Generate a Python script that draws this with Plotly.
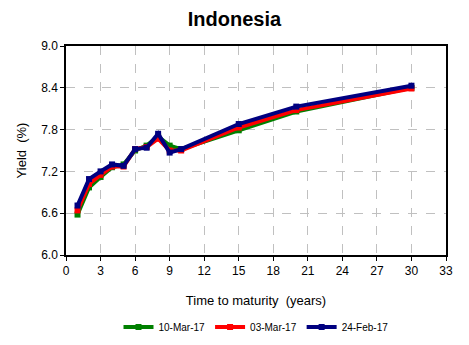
import plotly.graph_objects as go

maturity = [1, 2, 3, 4, 5, 6, 7, 8, 9, 10, 15, 20, 30]
y_10mar = [6.58, 6.97, 7.12, 7.26, 7.30, 7.50, 7.57, 7.70, 7.57, 7.52, 7.79, 8.06, 8.40]
y_03mar = [6.64, 7.02, 7.15, 7.27, 7.27, 7.52, 7.55, 7.67, 7.50, 7.50, 7.83, 8.08, 8.39]
y_24feb = [6.71, 7.09, 7.20, 7.30, 7.28, 7.52, 7.54, 7.74, 7.47, 7.52, 7.88, 8.13, 8.43]

series = [
    ("10-Mar-17", y_10mar, "#008000"),
    ("03-Mar-17", y_03mar, "#FF0000"),
    ("24-Feb-17", y_24feb, "#000080"),
]

x_ticks = [0, 3, 6, 9, 12, 15, 18, 21, 24, 27, 30, 33]
y_ticks = [6.0, 6.6, 7.2, 7.8, 8.4, 9.0]

fig = go.Figure()
for name, vals, col in series:
    fig.add_trace(go.Scatter(
        x=maturity, y=vals, name=name, mode="lines+markers",
        line=dict(color=col, width=4),
        marker=dict(symbol="square", size=6, color=col),
    ))

font_family = "Liberation Sans, Arial, sans-serif"

fig.update_layout(
    width=469, height=345,
    margin=dict(l=66, r=23, t=46, b=90, autoexpand=False),
    paper_bgcolor="white", plot_bgcolor="white",
    title=dict(text="<b>Indonesia</b>", x=0.5, xanchor="center", y=0.945, yanchor="middle",
               font=dict(family=font_family, size=20, color="black")),
    showlegend=True,
    legend=dict(orientation="h", x=0.5, xanchor="center", y=-0.345, yanchor="middle",
                font=dict(family=font_family, size=10, color="black"),
                tracegroupgap=0),
    font=dict(family=font_family, color="black"),
)

fig.update_xaxes(
    range=[0, 33], tickvals=x_ticks, ticktext=[str(v) for v in x_ticks],
    showgrid=True, gridcolor="#C0C0C0", griddash="dash", gridwidth=1,
    showline=True, linecolor="black", linewidth=1.5, mirror=True,
    ticks="outside", ticklen=4, tickcolor="black",
    tickfont=dict(size=12, family=font_family),
    zeroline=False,
    title=dict(text="Time to maturity  (years)", font=dict(size=13, family=font_family), standoff=19),
)
fig.update_yaxes(
    range=[6.0, 9.0], tickvals=y_ticks, ticktext=[f"{v:.1f}" for v in y_ticks],
    showgrid=True, gridcolor="#C0C0C0", griddash="dash", gridwidth=1,
    showline=True, linecolor="black", linewidth=1.5, mirror=True,
    ticks="outside", ticklen=4, tickcolor="black",
    tickfont=dict(size=12, family=font_family),
    zeroline=False,
    title=dict(text="Yield  (%)", font=dict(size=13, family=font_family), standoff=12),
)

fig.write_html("out.html", config={"displayModeBar": False},
               post_script="document.body.style.margin='0';document.body.style.overflow='hidden';")
